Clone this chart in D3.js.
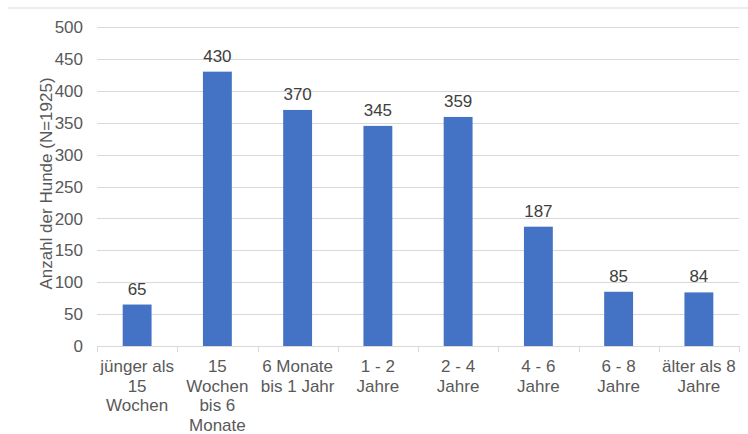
<!DOCTYPE html>
<html><head><meta charset="utf-8">
<script src="https://cdn.jsdelivr.net/npm/d3@7"></script>
<style>body{margin:0;background:#fff}svg{display:block}text{font-family:"Liberation Sans",Arial,sans-serif;fill:#595959}</style>
</head><body><svg id="c" width="748" height="434"></svg>
<script>
const categories = ["jünger als\n15\nWochen","15\nWochen\nbis 6\nMonate","6 Monate\nbis 1 Jahr","1 - 2\nJahre","2 - 4\nJahre","4 - 6\nJahre","6 - 8\nJahre","älter als 8\nJahre"];
const values = [65,430,370,345,359,187,85,84];
const yTicks = [0,50,100,150,200,250,300,350,400,450,500];
const yTitle = "Anzahl der Hunde (N=1925)";

const svg = d3.select("#c");
const L = 97, R = 739, T = 27, B = 346;
const FS = "17px";
const x = d3.scaleBand().domain(categories).range([L, R]).paddingInner(0.64).paddingOuter(0.32);
const y = d3.scaleLinear().domain([0, 500]).range([B, T]);

// top border
svg.append("line").attr("x1",8).attr("x2",748).attr("y1",8).attr("y2",8).attr("stroke","#d9d9d9").attr("stroke-width",1);

// gridlines
svg.append("g").selectAll("line").data(yTicks.filter(d=>d>0)).join("line")
  .attr("x1",L).attr("x2",R).attr("y1",d=>Math.round(y(d))+0.5).attr("y2",d=>Math.round(y(d))+0.5)
  .attr("stroke","#d9d9d9").attr("stroke-width",1);

// y labels
svg.append("g").selectAll("text").data(yTicks).join("text")
  .attr("x",83).attr("y",d=>y(d)).attr("dy","0.36em").attr("text-anchor","end")
  .style("font-size",FS).text(d=>d);

// bars
svg.append("g").selectAll("rect").data(values).join("rect")
  .attr("x",(d,i)=>x(categories[i])).attr("width",x.bandwidth())
  .attr("y",d=>y(d)).attr("height",d=>B-y(d)).attr("fill","#4472C4");

// value labels
svg.append("g").selectAll("text").data(values).join("text")
  .attr("x",(d,i)=>x(categories[i])+x.bandwidth()/2).attr("y",d=>y(d)-10)
  .attr("text-anchor","middle").style("font-size",FS).style("fill","#404040").text(d=>d);

// x axis line and ticks
svg.append("line").attr("x1",L).attr("x2",R).attr("y1",B+0.5).attr("y2",B+0.5).attr("stroke","#d9d9d9");
const step = (R-L)/categories.length;
svg.append("g").selectAll("line").data(d3.range(categories.length+1)).join("line")
  .attr("x1",i=>Math.round(L+i*step)+0.5).attr("x2",i=>Math.round(L+i*step)+0.5)
  .attr("y1",B).attr("y2",B+6).attr("stroke","#d9d9d9");

// x labels
const xl = svg.append("g").selectAll("text").data(categories).join("text")
  .attr("x",d=>x(d)+x.bandwidth()/2).attr("y",372).attr("text-anchor","middle").style("font-size",FS);
xl.each(function(d){
  const t = d3.select(this), cx = +t.attr("x");
  d.split("\n").forEach((s,i)=>t.append("tspan").attr("x",cx).attr("dy",i?19.7:0).text(s));
});

// y title
svg.append("text").attr("transform",`translate(52,${(T+B)/2 - 3}) rotate(-90)`)
  .attr("text-anchor","middle").style("font-size",FS).text(yTitle);
</script></body></html>
